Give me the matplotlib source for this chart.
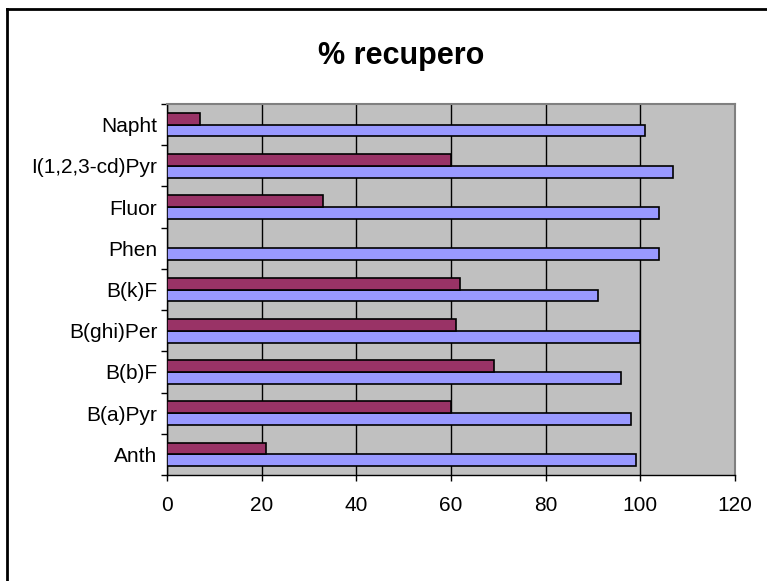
import numpy as np
import matplotlib
matplotlib.use("Agg")
import matplotlib.pyplot as plt
from matplotlib.lines import Line2D

plt.rcParams['font.family'] = ['Liberation Sans', 'DejaVu Sans']

categories = ['Anth', 'B(a)Pyr', 'B(b)F', 'B(ghi)Per', 'B(k)F',
              'Phen', 'Fluor', 'I(1,2,3-cd)Pyr', 'Napht']
serie_blu = [99, 98, 96, 100, 91, 104, 104, 107, 101]
serie_viola = [21, 60, 69, 61, 62, 0, 33, 60, 7]
x_ticks = [0, 20, 40, 60, 80, 100, 120]

fig = plt.figure(figsize=(7.67, 5.81), dpi=100)
ax = fig.add_axes([0.2177, 0.1824, 0.7405, 0.6386])

y = np.arange(len(categories))
h = 1 / 3.5
ax.barh(y - h / 2, serie_blu, height=h, color='#9999FF', edgecolor='black', linewidth=1.2, zorder=3)
ax.barh(y + h / 2, serie_viola, height=h, color='#993366', edgecolor='black', linewidth=1.2, zorder=3)

ax.set_facecolor('#C0C0C0')
ax.set_xlim(0, 120)
ax.set_ylim(-0.5, len(categories) - 0.5)
ax.set_xticks(x_ticks)
ax.set_xticklabels([str(t) for t in x_ticks], fontsize=15)
ax.set_yticks(y)
ax.set_yticklabels(categories, fontsize=15)
ax.set_yticks(np.arange(len(categories) + 1) - 0.5, minor=True)
ax.tick_params(axis='y', which='major', length=0, pad=7)
ax.tick_params(axis='y', which='minor', length=4, width=1, direction='out')
ax.tick_params(axis='x', length=4, width=1, direction='out', pad=11)

ax.grid(axis='x', color='black', linewidth=1, zorder=1)
ax.set_axisbelow(True)
for s in ['top', 'right']:
    ax.spines[s].set_color('#808080')
    ax.spines[s].set_linewidth(1.5)
for s in ['left', 'bottom']:
    ax.spines[s].set_color('black')
    ax.spines[s].set_linewidth(1)

fig.text(0.523, 0.89, '% recupero', ha='center', va='baseline', fontsize=22, fontweight='bold')

# bordo del grafico
fig.add_artist(Line2D([0.009, 0.009], [0, 0.985], color='black', linewidth=2, transform=fig.transFigure))
fig.add_artist(Line2D([0.009, 1], [0.985, 0.985], color='black', linewidth=2, transform=fig.transFigure))

fig.savefig('out.png', dpi=100)
